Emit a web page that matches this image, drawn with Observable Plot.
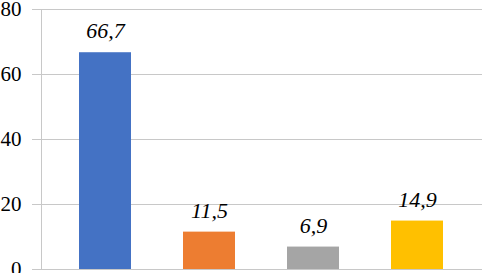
<!DOCTYPE html>
<html><head><meta charset="utf-8">
<script src="https://cdn.jsdelivr.net/npm/d3@7"></script>
<script src="https://cdn.jsdelivr.net/npm/@observablehq/plot@0.6"></script>
<style>
body{margin:0;background:#fff;overflow:hidden}
svg, svg text, svg g{font-family:"Liberation Serif",serif !important;}
</style>
</head><body><div id="c"></div>
<script>
const categories = ["1", "2", "3", "4"];
const values = [66.7, 11.5, 6.9, 14.9];
const colors = ["#4472C4", "#ED7D31", "#A5A5A5", "#FFC000"];
const yTicks = [0, 20, 40, 60, 80];

const data = categories.map((c, i) => ({cat: c, value: values[i], color: colors[i]}));
const fmt = v => String(v).replace(".", ",");

const chart = Plot.plot({
  width: 482, height: 273,
  marginLeft: 41, marginRight: 0, marginTop: 9, marginBottom: 4,
  style: {fontFamily: "'Liberation Serif', serif", fontSize: "21px", color: "#000", background: "#fff"},
  x: {domain: categories, range: [51, 470], paddingInner: 0.5, paddingOuter: 0.25, axis: null},
  y: {domain: [0, 80], axis: null},
  marks: [
    Plot.ruleY(yTicks, {stroke: "#C8C8C8", strokeWidth: 1, strokeOpacity: 1}),
    Plot.frame({anchor: "left", stroke: "#C8C8C8", strokeOpacity: 1}),
    Plot.axisY({ticks: yTicks, tickSize: 9, tickPadding: 11, stroke: "#C8C8C8", strokeOpacity: 1, fill: "#000", fontSize: 21, label: null, tickFormat: d => d}),
    Plot.barY(data, {x: "cat", y: "value", fill: d => d.color}),
    Plot.text(data, {x: "cat", y: "value", text: d => fmt(d.value), dy: -21.5, fontStyle: "italic", fontSize: 22, fill: "#000"})
  ]
});
document.getElementById("c").appendChild(chart);
</script></body></html>
